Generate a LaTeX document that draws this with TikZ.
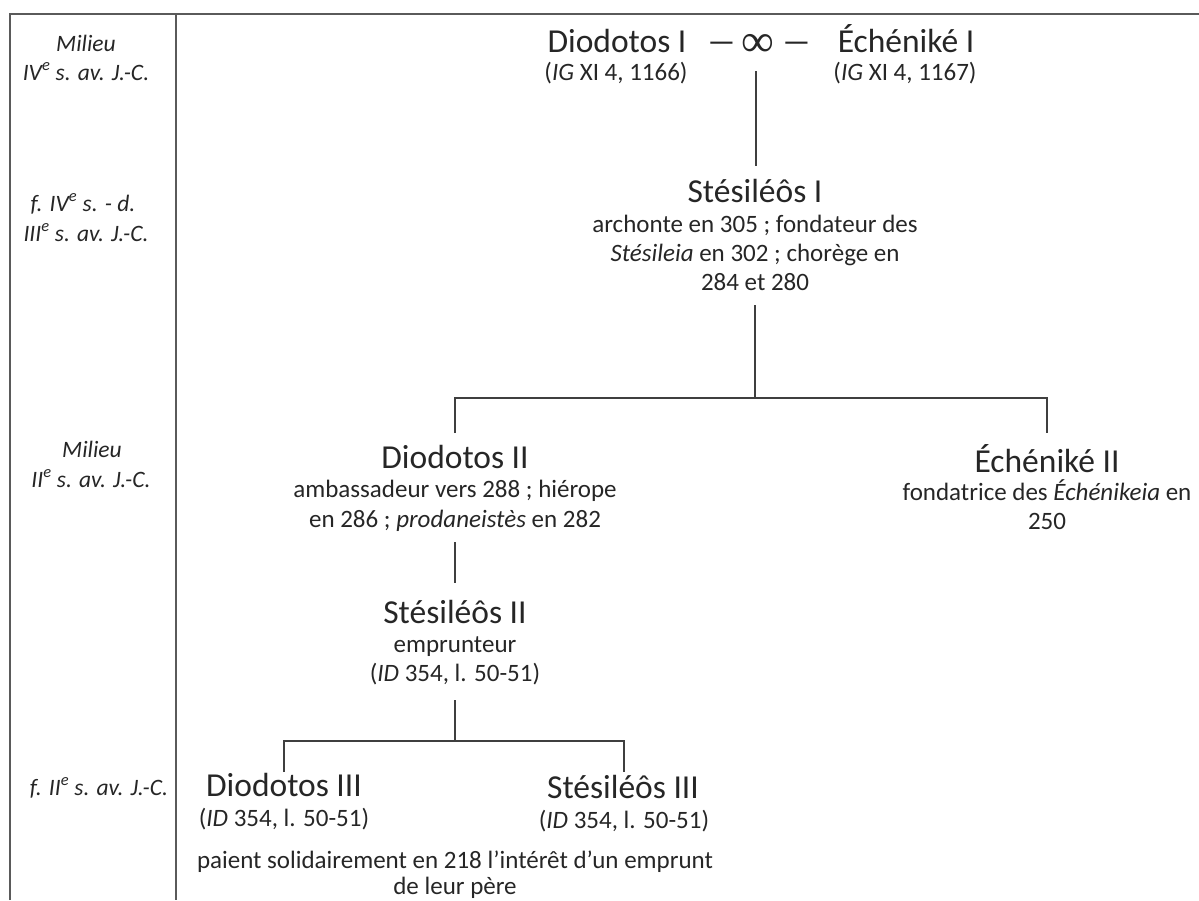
\documentclass[tikz,border=0pt]{standalone}
\usepackage{fontspec}
\setmainfont{Carlito}
\newfontfamily\symfont{Liberation Serif}
\definecolor{txt}{HTML}{262626}
\definecolor{lnk}{HTML}{3F3F3F}
\definecolor{frm}{HTML}{5A5A5A}
\begin{document}
\begin{tikzpicture}[x=1pt,y=-1pt,
  every node/.style={inner sep=0pt,outer sep=0pt,text=txt,anchor=base},
  namebox/.style={font=\fontsize{33.5}{40}\selectfont},
  infobox/.style={font=\fontsize{25}{29}\selectfont},
  periodbox/.style={font=\fontsize{23.5}{27}\selectfont\itshape},
  link/.style={draw=lnk,line width=1.5pt},
  frame/.style={draw=frm,line width=2pt}]
\useasboundingbox (0,0) rectangle (1199,900);
% frame
\coordinate (ftl) at (10,14);
\coordinate (ftr) at (1199,14);
\coordinate (fbl) at (10,900);
\coordinate (dtop) at (176,14);
\coordinate (dbot) at (176,900);
\draw[frame] (fbl) -- (ftl) -- (ftr);
\draw[frame] (dtop) -- (dbot);
% period labels
\node[periodbox] (p1a) at (86,51) {Milieu};
\node[periodbox] (p1b) at (86,80) {IV\textsuperscript{e} s. av. J.-C.};
\node[periodbox] (p2a) at (83,211) {f. IV\textsuperscript{e} s. - d.};
\node[periodbox] (p2b) at (86,241) {III\textsuperscript{e} s. av. J.-C.};
\node[periodbox] (p3a) at (92,457) {Milieu};
\node[periodbox] (p3b) at (91,487) {II\textsuperscript{e} s. av. J.-C.};
\node[periodbox] (p4a) at (99,795) {f. II\textsuperscript{e} s. av. J.-C.};
% generation I
\node[namebox] (d1) at (617,52) {Diodotos I};
\node[infobox] (d1r) at (616,80) {(\textit{IG} XI 4, 1166)};
\node[namebox] (mar) at (759,52) {\scalebox{0.9}[1]{—}\hspace{6pt}\raisebox{-4pt}{\symfont\fontsize{46}{46}\selectfont ∞}\hspace{9pt}\scalebox{0.9}[1]{—}};
\node[namebox] (e1) at (906,52) {Échéniké I};
\node[infobox] (e1r) at (905,80) {(\textit{IG} XI 4, 1167)};
% Stesileos I
\node[namebox] (s1) at (755,202) {Stésiléôs I};
\node[infobox] (s1a) at (755,232) {archonte en 305 ; fondateur des};
\node[infobox] (s1b) at (755,261) {\textit{Stésileia} en 302 ; chorège en};
\node[infobox] (s1c) at (755,290) {284 et 280};
% Diodotos II
\node[namebox] (d2) at (455,468) {Diodotos II};
\node[infobox] (d2a) at (455,497) {ambassadeur vers 288 ; hiérope};
\node[infobox] (d2b) at (455,527) {en 286 ; \textit{prodaneistès} en 282};
% Echenike II
\node[namebox] (e2) at (1047,472) {Échéniké II};
\node[infobox] (e2a) at (1047,500) {fondatrice des \textit{Échénikeia} en};
\node[infobox] (e2b) at (1047,529) {250};
% Stesileos II
\node[namebox] (s2) at (455,623) {Stésiléôs II};
\node[infobox] (s2a) at (455,652) {emprunteur};
\node[infobox] (s2b) at (455,681) {(\textit{ID} 354, l. 50-51)};
% generation IV
\node[namebox] (d3) at (284,796) {Diodotos III};
\node[infobox] (d3r) at (284,826) {(\textit{ID} 354, l. 50-51)};
\node[namebox] (s3) at (623,798) {Stésiléôs III};
\node[infobox] (s3r) at (624,828) {(\textit{ID} 354, l. 50-51)};
\node[infobox] (jt1) at (455,868) {paient solidairement en 218 l’intérêt d’un emprunt};
\node[infobox] (jt2) at (455,894) {de leur père};
% connector points
\coordinate (m0) at (756,71);
\coordinate (m1) at (756,166);
\coordinate (b0) at (755,305);
\coordinate (b1) at (755,398);
\coordinate (bl) at (455,398);
\coordinate (br) at (1047,398);
\coordinate (bld) at (455,433);
\coordinate (brd) at (1047,433);
\coordinate (c0) at (455,542);
\coordinate (c1) at (455,583);
\coordinate (g0) at (455,700);
\coordinate (g1) at (455,741);
\coordinate (gl) at (284,741);
\coordinate (gr) at (624,741);
\coordinate (gld) at (284,772);
\coordinate (grd) at (624,772);
\draw[link] (m0) -- (m1);
\draw[link] (b0) -- (b1);
\draw[link] (bld) -- (bl) -- (br) -- (brd);
\draw[link] (c0) -- (c1);
\draw[link] (g0) -- (g1);
\draw[link] (gld) -- (gl) -- (gr) -- (grd);
\end{tikzpicture}
\end{document}
